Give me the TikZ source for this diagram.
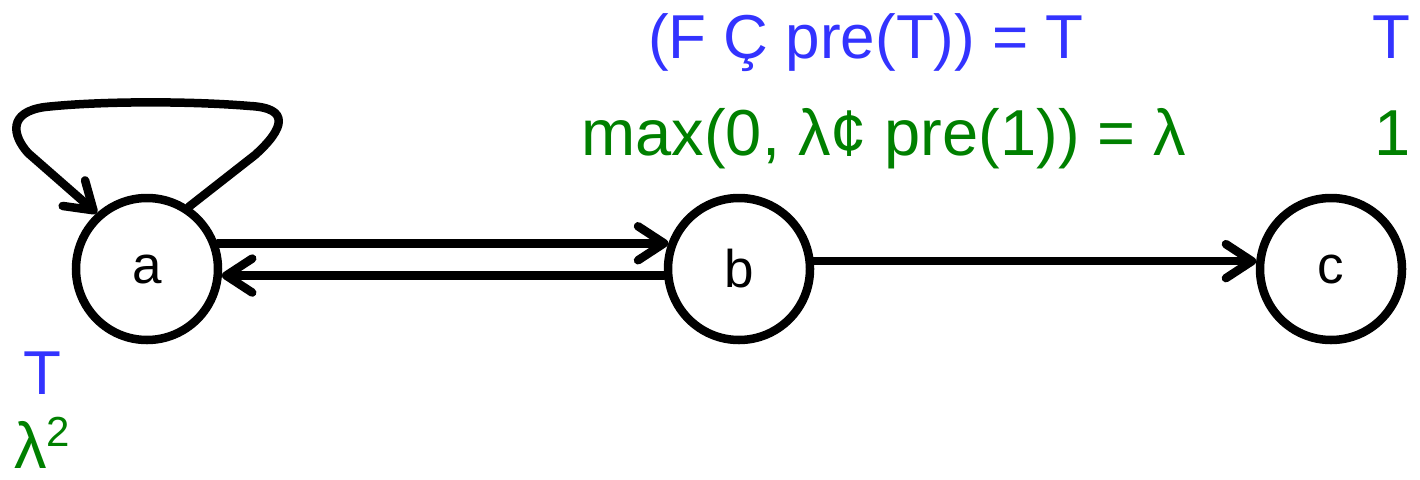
\documentclass[tikz,border=0pt]{standalone}
\usepackage{fontspec}
\setmainfont{Liberation Sans}
\usetikzlibrary{arrows.meta}
\definecolor{lblue}{RGB}{51,51,255}
\definecolor{lgreen}{RGB}{0,128,0}
\tikzset{
  state/.style={circle,draw,line width=8.5pt,minimum size=142pt,inner sep=0pt,font=\fontsize{53}{60}\selectfont},
  edge/.style={line width=8.5pt,line cap=round,line join=round,-{Straight Barb[length=26pt,width=34pt,line cap=round,line join=round]}},
  bluelbl/.style={text=lblue,font=\fontsize{62}{70}\selectfont,inner sep=0pt},
  greenlbl/.style={text=lgreen,font=\fontsize{65}{72}\selectfont,inner sep=0pt},
}
\begin{document}
\begin{tikzpicture}[x=1pt,y=-1pt]
\useasboundingbox (0,0) rectangle (1420,479);
\node[state] (a) at (147,269) {a};
\node[state] (b) at (739,269) {b};
\node[state] (c) at (1331,269) {c};
\draw[edge] (a.20) -- (b.160);
\draw[edge] (b.185) -- (a.-5);
\draw[edge] (b.6) -- (c.174);
\draw[edge] (a.56) -- (255,155) .. controls (285,128) and (290,108) .. (250,106) .. controls (190,101) and (100,101) .. (45,107) .. controls (8,112) and (12,135) .. (28,153) -- (a.132);
\node[bluelbl,anchor=base] (f1) at (866,58) {(F Ç pre(T)) = T};
\node[greenlbl,anchor=base] (f2) at (884,155) {max(0, λ¢ pre(1)) = λ};
\node[bluelbl,anchor=base east] (c1) at (1411,58) {T};
\node[greenlbl,anchor=base east] (c2) at (1411,155) {1};
\node[bluelbl,anchor=base west] (a1) at (23,394) {T};
\node[greenlbl,anchor=base west] (a2) at (14,468) {λ\raisebox{22pt}{\fontsize{42}{48}\selectfont 2}};
\end{tikzpicture}
\end{document}
